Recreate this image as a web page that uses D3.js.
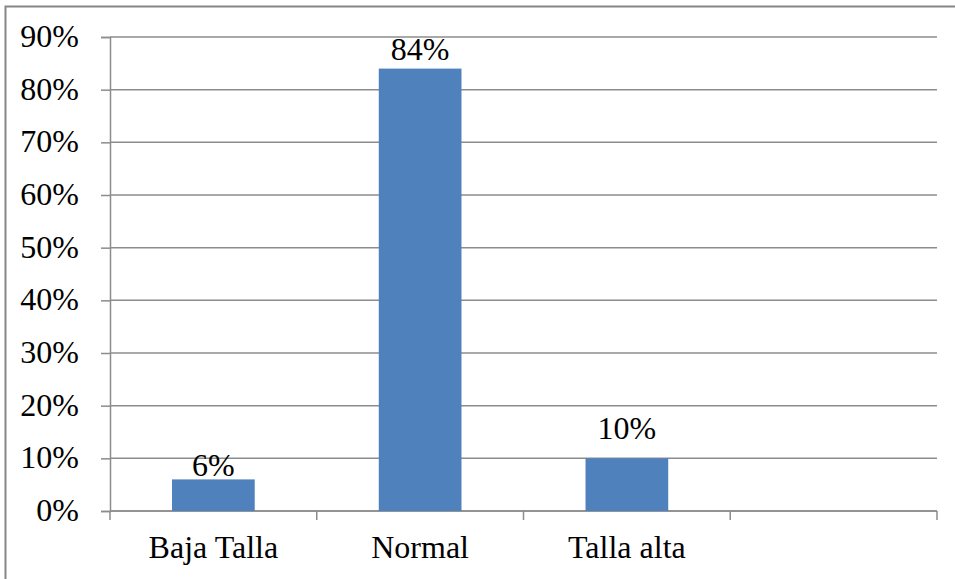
<!DOCTYPE html>
<html>
<head>
<meta charset="utf-8">
<script src="https://cdn.jsdelivr.net/npm/d3@7"></script>
</head>
<body style="margin:0">
<svg id="chart" width="955" height="579" font-family="Liberation Serif"></svg>
<script>
// Categories (the last slot is an empty category) and their percentages
const categories = ["Baja Talla", "Normal", "Talla alta", ""];
const values = [6, 84, 10, null];
const valueLabels = ["6%", "84%", "10%", ""];
const yTicks = [0, 10, 20, 30, 40, 50, 60, 70, 80, 90];

const W = 955, H = 579;
const plot = { left: 110, right: 937, top: 37, bottom: 511 };
const fontSize = 32;
const serif = "'Liberation Serif'";
const gridColor = "#8c8c8c";
const barColor = "#4F81BD";

// label lift above each bar top (px)
const labelLift = [3, 9, 19, 0];

const svg = d3.select("#chart");

// outer chart frame
svg.append("rect")
  .attr("x", 5.5).attr("y", 6.5)
  .attr("width", W + 20).attr("height", H + 20)
  .attr("fill", "#fff")
  .attr("stroke", "#868686")
  .attr("stroke-width", 2);

const x = d3.scaleBand()
  .domain(categories.map((c, i) => i))
  .range([plot.left, plot.right])
  .paddingInner(0.6)
  .paddingOuter(0.3);

const y = d3.scaleLinear()
  .domain([0, 90])
  .range([plot.bottom, plot.top]);

// horizontal gridlines
svg.append("g")
  .selectAll("line")
  .data(yTicks)
  .join("line")
  .attr("x1", plot.left).attr("x2", plot.right)
  .attr("y1", d => y(d)).attr("y2", d => y(d))
  .attr("stroke", gridColor)
  .attr("stroke-width", 1.5);

// shared text styling
function serifText(sel) {
  sel.attr("font-family", "Liberation Serif")
    .style("font-family", serif)
    .attr("font-size", fontSize)
    .style("font-size", fontSize + "px")
    .attr("fill", "#000");
}

// y axis
const yAxis = svg.append("g")
  .attr("transform", `translate(${plot.left},0)`)
  .call(d3.axisLeft(y).tickValues(yTicks).tickFormat(d => d + "%").tickSize(9).tickPadding(22));
yAxis.attr("font-family", "Liberation Serif").attr("font-size", fontSize);
yAxis.select(".domain").attr("stroke", gridColor).attr("stroke-width", 1.5);
yAxis.selectAll(".tick line").attr("stroke", gridColor).attr("stroke-width", 1.5);
yAxis.selectAll(".tick text").call(serifText).attr("dy", "0.3em");

// x axis: ticks on category boundaries
const step = x.step();
const boundaries = d3.range(categories.length + 1).map(i => plot.left + i * step);
const xg = svg.append("g");
xg.append("line")
  .attr("x1", plot.left).attr("x2", plot.right)
  .attr("y1", plot.bottom).attr("y2", plot.bottom)
  .attr("stroke", gridColor).attr("stroke-width", 1.5);
xg.selectAll("line.tk")
  .data(boundaries)
  .join("line")
  .attr("class", "tk")
  .attr("x1", d => d).attr("x2", d => d)
  .attr("y1", plot.bottom).attr("y2", plot.bottom + 9)
  .attr("stroke", gridColor).attr("stroke-width", 1.5);

// bars
const bars = categories.map((c, i) => ({ i, c, v: values[i], label: valueLabels[i] }))
  .filter(d => d.v != null);

svg.append("g")
  .selectAll("rect")
  .data(bars)
  .join("rect")
  .attr("x", d => x(d.i))
  .attr("width", x.bandwidth())
  .attr("y", d => y(d.v))
  .attr("height", d => y(0) - y(d.v))
  .attr("fill", barColor);

// value labels
svg.append("g")
  .selectAll("text")
  .data(bars)
  .join("text")
  .attr("x", d => x(d.i) + x.bandwidth() / 2)
  .attr("y", d => y(d.v) - labelLift[d.i])
  .attr("text-anchor", "middle")
  .call(serifText)
  .text(d => d.label);

// category labels
svg.append("g")
  .selectAll("text")
  .data(categories.map((c, i) => ({ c, i })).filter(d => d.c))
  .join("text")
  .attr("x", d => x(d.i) + x.bandwidth() / 2)
  .attr("y", 558)
  .attr("text-anchor", "middle")
  .call(serifText)
  .text(d => d.c);
</script>
</body>
</html>
